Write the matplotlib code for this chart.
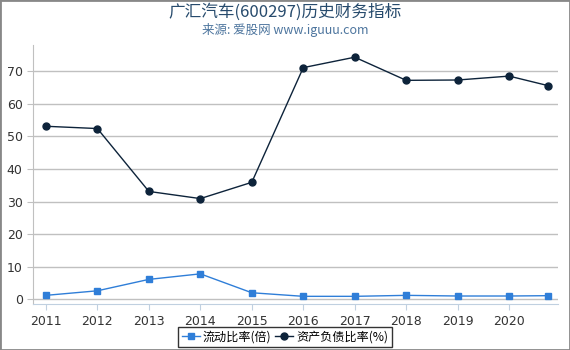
import numpy as np
import matplotlib
matplotlib.use("Agg")
import matplotlib.pyplot as plt

plt.rcParams['font.family'] = ['Noto Sans CJK SC', 'DejaVu Sans']

# x positions: year-end reports, last point is a later quarter
x_pos = [2011, 2012, 2013, 2014, 2015, 2016, 2017, 2018, 2019, 2020, 2020.75]
tick_years = [2011, 2012, 2013, 2014, 2015, 2016, 2017, 2018, 2019, 2020]
current_ratio = [1.2, 2.6, 6.1, 7.8, 2.0, 0.9, 0.9, 1.2, 1.0, 1.0, 1.1]
debt_ratio = [53.1, 52.4, 33.1, 30.9, 35.9, 71.1, 74.3, 67.2, 67.3, 68.5, 65.6]

fig = plt.figure(figsize=(5.7, 3.5), dpi=100)
ax = fig.add_axes([0.058, 0.131, 0.921, 0.74])

ax.plot(x_pos, current_ratio, color='#2f7ed8', marker='s', markersize=5,
        linewidth=1, label='流动比率(倍)')
ax.plot(x_pos, debt_ratio, color='#0d233a', marker='o', markersize=5,
        linewidth=1, label='资产负债比率(%)')

ax.set_xlim(2010.75, 2020.95)
ax.set_ylim(-1.5, 78)
ax.set_xticks(tick_years)
ax.set_xticklabels([str(y) for y in tick_years], family='DejaVu Sans')
ax.set_yticks(range(0, 80, 10))
ax.set_yticklabels([str(v) for v in range(0, 80, 10)], family='DejaVu Sans')

ax.grid(axis='y', color='#c0c0c0', linewidth=1)
ax.set_axisbelow(True)
for s in ['top', 'right']:
    ax.spines[s].set_visible(False)
ax.spines['left'].set_color('#c0c0c0')
ax.spines['bottom'].set_color('#c0d0e0')
ax.tick_params(axis='both', colors='#333333', labelsize=9, length=4)
ax.tick_params(axis='y', color='#c0c0c0')
ax.tick_params(axis='x', color='#c0d0e0')

fig.text(0.5, 0.965, '广汇汽车(600297)历史财务指标', ha='center', va='center',
         fontsize=12, color='#274b6d')
fig.text(0.5, 0.915, '来源: 爱股网 www.iguuu.com', ha='center', va='center',
         fontsize=9, color='#4d759e')

leg = fig.legend(loc='center', bbox_to_anchor=(0.5, 0.037), ncol=2,
                 fontsize=8.7, frameon=True, fancybox=False,
                 handlelength=1.5, handletextpad=0.25, columnspacing=0.3,
                 borderpad=0.3, borderaxespad=0.2)
leg.get_frame().set_edgecolor('black')
leg.get_frame().set_linewidth(1)

fig.patches.append(plt.Rectangle((0, 0), 1, 1, transform=fig.transFigure,
                                 fill=False, edgecolor='#888888', linewidth=2))

fig.savefig('out.png', dpi=100)
